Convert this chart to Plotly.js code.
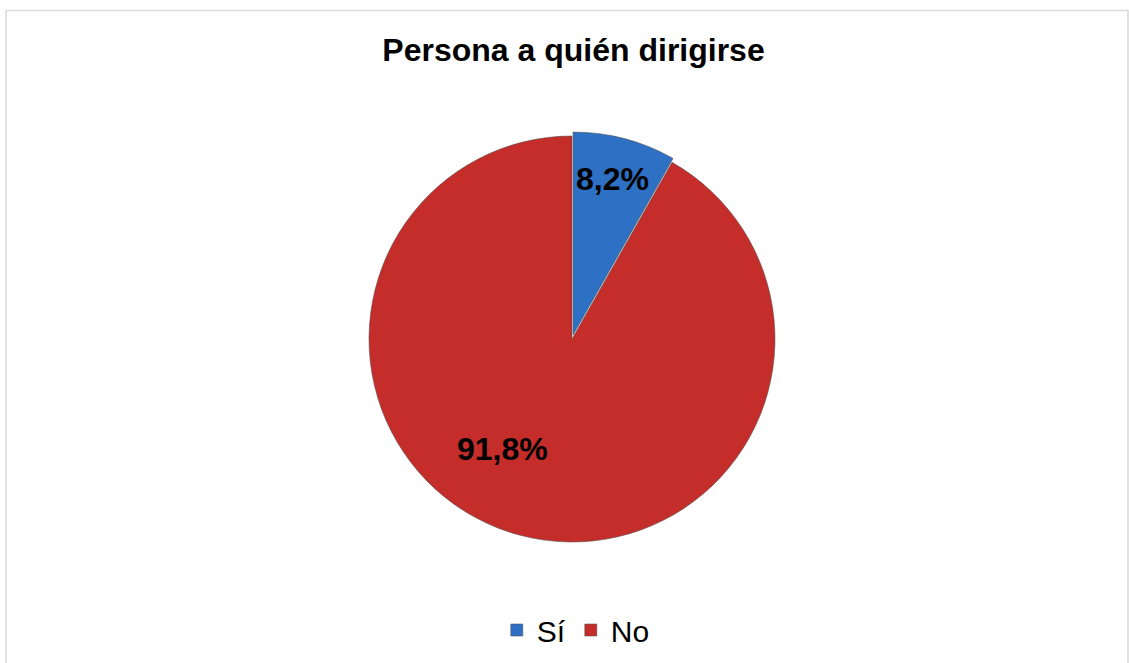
<!DOCTYPE html>
<html><head><meta charset="utf-8">
<script src="https://cdn.plot.ly/plotly-3.0.1.min.js"></script>
<style>html,body{margin:0;padding:0;background:#fff}#chart{width:1129px;height:663px}</style>
</head><body><div id="chart"></div>
<script>
const labels = ['Sí', 'No'];
const values = [8.2, 91.8];
const colors = ['#2E70C4', '#C42D2A'];
const chartTitle = 'Persona a quién dirigirse';

const W = 1129, H = 663;
const fmt = v => v.toFixed(1).replace('.', ',') + '%';
const pull = [0.02, 0];
// pie geometry (pixels)
const cx = 572, cy = 339, R = 203 * 1.02;
const labelPos = [[612, 179], [502, 449]];

const trace = {
  type: 'pie', labels: labels, values: values, sort: false,
  direction: 'clockwise', rotation: 0, pull: pull,
  marker: {colors: colors, line: {color: 'rgba(80,80,80,0.55)', width: 1}},
  textinfo: 'none', hoverinfo: 'label+percent',
  domain: {x: [(cx - R) / W, (cx + R) / W], y: [1 - (cy + R) / H, 1 - (cy - R) / H]}
};

const annotations = values.map((v, i) => ({
  xref: 'paper', yref: 'paper', x: labelPos[i][0] / W, y: 1 - labelPos[i][1] / H,
  xanchor: 'center', yanchor: 'middle',
  text: '<b>' + fmt(v) + '</b>', showarrow: false,
  font: {family: 'Arial, Liberation Sans, sans-serif', size: 32, color: '#000'}
}));

const layout = {
  width: W, height: H, margin: {l: 0, r: 0, t: 0, b: 0, autoexpand: false},
  paper_bgcolor: '#fff', plot_bgcolor: '#fff',
  title: {text: '<b>' + chartTitle + '</b>', x: 0.508, xanchor: 'center', y: 1 - 50 / H, yanchor: 'middle',
    font: {family: 'Arial, Liberation Sans, sans-serif', size: 32, color: '#000'}},
  showlegend: true,
  legend: {orientation: 'h', x: 0.51, xanchor: 'center', y: 1 - 630 / H, yanchor: 'middle',
    font: {family: 'Arial, Liberation Sans, sans-serif', size: 30, color: '#000'},
    tracegroupgap: 0},
  annotations: annotations,
  shapes: [{type: 'rect', xref: 'paper', yref: 'paper', x0: 6 / W, x1: 1128 / W, y0: -0.05, y1: 1 - 10.5 / H,
    line: {color: '#D9D9D9', width: 1.5}, fillcolor: 'rgba(0,0,0,0)'}]
};

Plotly.newPlot('chart', [trace], layout, {displayModeBar: false, staticPlot: true});
</script></body></html>
